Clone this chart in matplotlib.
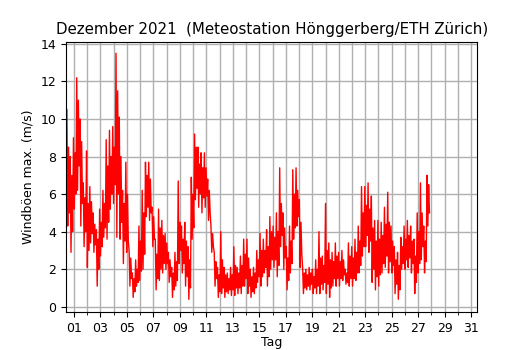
import numpy as np
import matplotlib
matplotlib.use("Agg")
import matplotlib.pyplot as plt

plt.rcParams["font.size"] = 9

# Time span of the record (day of month, fractional)
day_start = 0.47
day_end = 27.85

# Max. wind gusts (m/s) in order of time
gust_max = [
    10.5, 4.3, 8.5, 5.0,   8.0, 2.9, 7.0, 4.0,   9.0, 5.2, 8.2, 6.0,
    12.2, 6.2, 11.0, 7.5,  10.0, 4.3, 8.8, 5.5,  6.6, 3.2, 5.8, 4.0,
    8.3, 2.1, 5.5, 3.0,    6.4, 3.4, 5.6, 3.9,   5.0, 2.9, 4.4, 3.3,
    4.1, 1.1, 3.6, 2.0,    5.2, 2.7, 4.5, 3.2,   6.2, 3.7, 5.5, 4.2,
    8.9, 3.6, 7.5, 4.5,    9.4, 5.2, 8.0, 6.0,   9.6, 5.5, 8.5, 6.5,
    13.5, 3.7, 11.5, 6.0,  10.1, 3.6, 8.0, 4.5,  6.2, 2.3, 5.5, 3.5,
    7.7, 2.9, 6.0, 3.5,    3.0, 1.1, 2.6, 1.5,   1.8, 0.5, 1.5, 0.8,
    2.5, 1.1, 2.0, 1.3,    4.3, 1.4, 3.5, 1.9,   6.2, 2.0, 5.0, 2.8,
    7.7, 4.8, 7.0, 5.3,    7.7, 4.6, 6.8, 5.0,   5.3, 3.2, 4.8, 3.6,
    3.6, 0.9, 2.8, 1.5,    5.2, 1.4, 4.2, 2.0,   4.6, 1.8, 3.8, 2.3,
    3.9, 2.0, 3.4, 2.3,    2.9, 1.3, 2.5, 1.6,   2.1, 0.5, 1.8, 0.9,
    2.9, 1.1, 2.4, 1.4,    6.7, 2.3, 4.5, 3.0,   4.3, 1.8, 3.6, 2.3,
    4.5, 1.1, 3.5, 1.6,    3.2, 0.4, 2.5, 1.0,   6.9, 3.6, 6.0, 4.2,
    9.2, 5.7, 8.5, 6.3,    8.5, 5.3, 7.6, 6.0,   8.2, 5.0, 7.4, 5.8,
    8.2, 5.3, 7.4, 5.9,    6.8, 4.6, 6.2, 5.0,   4.3, 2.9, 3.9, 3.2,
    2.9, 1.1, 2.4, 1.5,    2.1, 0.5, 1.7, 0.8,   4.0, 0.7, 2.5, 1.0,
    2.1, 0.5, 1.7, 0.8,    1.8, 0.7, 1.5, 0.9,   2.1, 0.6, 1.7, 0.9,
    3.2, 0.6, 2.2, 1.0,    2.1, 0.7, 1.8, 1.0,   2.7, 0.7, 2.2, 1.1,
    3.6, 1.1, 2.8, 1.5,    3.6, 0.7, 2.6, 1.1,   2.0, 0.5, 1.6, 0.8,
    2.1, 0.7, 1.8, 1.0,    3.0, 1.3, 2.5, 1.6,   3.9, 1.1, 3.0, 1.6,
    3.6, 1.8, 3.0, 2.1,    4.1, 1.1, 3.2, 1.6,   4.8, 2.0, 4.0, 2.5,
    4.3, 2.1, 3.7, 2.5,    5.0, 1.6, 4.0, 2.2,   7.4, 3.2, 5.5, 3.8,
    5.0, 2.0, 4.2, 2.6,    3.2, 0.9, 2.6, 1.4,   4.3, 1.8, 3.5, 2.3,
    7.3, 3.6, 6.0, 4.2,    7.4, 4.3, 6.2, 4.8,   5.7, 2.1, 4.5, 2.8,
    2.1, 0.7, 1.8, 1.0,    2.0, 0.9, 1.7, 1.1,   2.1, 0.9, 1.8, 1.2,
    2.0, 0.7, 1.6, 1.0,    2.5, 0.7, 2.0, 1.1,   4.0, 0.7, 2.6, 1.2,
    2.7, 0.9, 2.2, 1.3,    5.5, 0.7, 3.0, 1.2,   3.4, 0.5, 2.5, 1.0,
    2.9, 1.1, 2.4, 1.5,    3.4, 1.1, 2.7, 1.5,   2.9, 1.1, 2.4, 1.5,
    3.0, 1.4, 2.5, 1.7,    2.0, 1.2, 1.8, 1.3,   3.4, 1.1, 2.7, 1.5,
    3.2, 1.1, 2.6, 1.5,    3.6, 1.4, 2.9, 1.8,   4.3, 1.8, 3.5, 2.2,
    6.4, 2.7, 5.0, 3.2,    6.4, 3.2, 5.4, 3.8,   6.6, 2.9, 5.2, 3.5,
    5.9, 1.3, 4.2, 2.0,    4.6, 0.9, 3.5, 1.6,   4.6, 1.1, 3.6, 1.7,
    4.5, 1.8, 3.8, 2.3,    5.3, 2.1, 4.4, 2.7,   6.1, 1.8, 4.5, 2.4,
    4.3, 1.8, 3.5, 2.2,    3.2, 0.7, 2.5, 1.2,   2.9, 0.4, 2.2, 0.9,
    3.7, 2.0, 3.2, 2.3,    4.3, 2.0, 3.6, 2.5,   4.6, 2.1, 3.8, 2.6,
    4.3, 1.8, 3.5, 2.3,    3.6, 0.7, 2.7, 1.3,   5.0, 1.8, 4.0, 2.3,
    6.6, 2.5, 5.0, 3.2,    4.3, 1.8, 3.5, 2.4,   7.0, 4.3, 6.5, 5.0,
]

major_days = list(range(1, 32, 2))
major_labels = ["%02d" % d for d in major_days]
minor_days = list(range(2, 31, 2))
y_ticks = [0, 2, 4, 6, 8, 10, 12, 14]

t = np.linspace(day_start, day_end, len(gust_max))

fig = plt.figure(figsize=(5.3, 3.5), dpi=100)
ax = fig.add_axes([0.1245, 0.109, 0.776, 0.771])
ax.plot(t, gust_max, color="red", linewidth=1.0)

ax.set_xlim(0.40, 31.46)
ax.set_ylim(-0.27, 14.1)
ax.set_xticks(major_days)
ax.set_xticklabels(major_labels)
ax.set_xticks(minor_days, minor=True)
ax.set_yticks(y_ticks)
ax.grid(True, which="both", color="#b0b0b0", linewidth=1.0)
ax.set_axisbelow(True)
ax.set_xlabel("Tag", labelpad=1)
ax.set_ylabel("Windböen max. (m/s)")
ax.set_title("Dezember 2021  (Meteostation Hönggerberg/ETH Zürich)", fontsize="large")

fig.savefig("out.png", dpi=100)
